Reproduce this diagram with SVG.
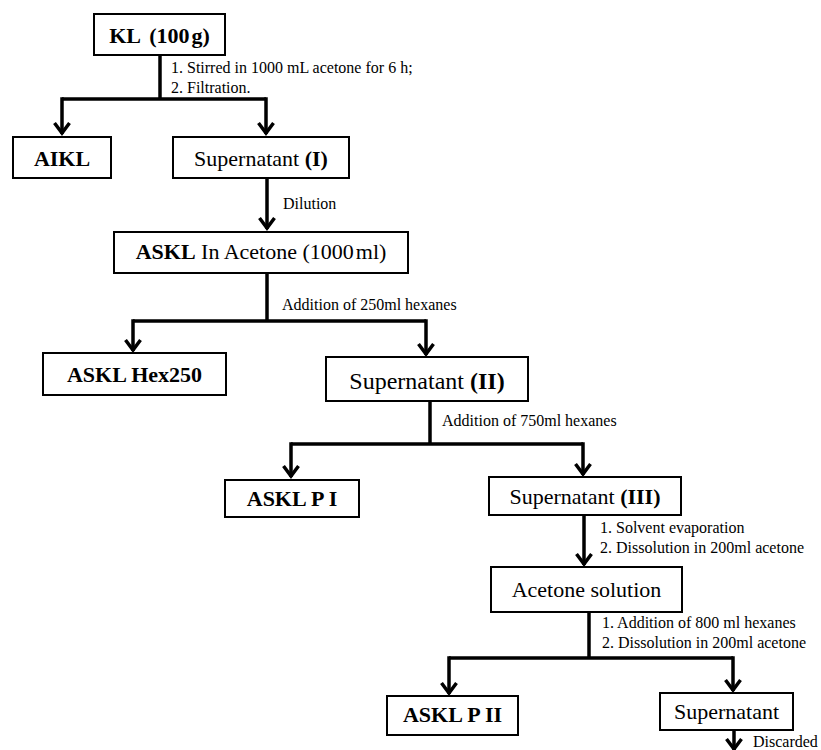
<svg xmlns="http://www.w3.org/2000/svg" width="821" height="750" viewBox="0 0 821 750">
<style>
.box{fill:#fff;stroke:#000;stroke-width:2}
.t{font-family:"Liberation Serif","DejaVu Serif","Times New Roman",serif;font-size:22px;text-anchor:middle;fill:#000}
.b{font-weight:bold}
.lbl{font-family:"Liberation Serif","DejaVu Serif","Times New Roman",serif;font-size:16px;fill:#000}
.c{fill:none;stroke:#000;stroke-width:3.5;stroke-linecap:butt;stroke-linejoin:miter}
</style>
<defs>
<marker id="ah" markerUnits="userSpaceOnUse" markerWidth="20" markerHeight="20" refX="0" refY="0" orient="auto" overflow="visible">
<path d="M-11,-7.5 L-1,0 L-11,7.5" fill="none" stroke="#000" stroke-width="3.5" stroke-linejoin="miter"/>
</marker>
</defs>
<rect width="821" height="750" fill="#fff"/>
<g id="connectors">
<polyline class="c" points="160,55 160,99"/>
<polyline class="c" points="62,99 266,99"/>
<line class="c" x1="62" y1="97.25" x2="62" y2="134" marker-end="url(#ah)"/>
<line class="c" x1="266" y1="97.25" x2="266" y2="134" marker-end="url(#ah)"/>
<text class="lbl" x="171" y="73">1. Stirred in 1000 mL acetone for 6 h;</text>
<text class="lbl" x="171" y="93">2. Filtration.</text>
<line class="c" x1="267" y1="178" x2="267" y2="229" marker-end="url(#ah)"/>
<text class="lbl" x="283" y="209">Dilution</text>
<polyline class="c" points="267,273 267,321"/>
<polyline class="c" points="133,321 426,321"/>
<line class="c" x1="133" y1="319.25" x2="133" y2="351" marker-end="url(#ah)"/>
<line class="c" x1="426" y1="319.25" x2="426" y2="355" marker-end="url(#ah)"/>
<text class="lbl" x="282" y="310">Addition of 250ml hexanes</text>
<polyline class="c" points="430,401 430,444"/>
<polyline class="c" points="291,444 583,444"/>
<line class="c" x1="291" y1="442.25" x2="291" y2="477" marker-end="url(#ah)"/>
<line class="c" x1="583" y1="442.25" x2="583" y2="475" marker-end="url(#ah)"/>
<text class="lbl" x="442" y="426">Addition of 750ml hexanes</text>
<line class="c" x1="584" y1="515" x2="584" y2="565" marker-end="url(#ah)"/>
<text class="lbl" x="600" y="533">1. Solvent evaporation</text>
<text class="lbl" x="600" y="553">2. Dissolution in 200ml acetone</text>
<polyline class="c" points="589,612 589,658"/>
<polyline class="c" points="449,658 733,658"/>
<line class="c" x1="449" y1="656.25" x2="449" y2="694" marker-end="url(#ah)"/>
<line class="c" x1="733" y1="656.25" x2="733" y2="691" marker-end="url(#ah)"/>
<text class="lbl" x="602" y="628">1. Addition of 800 ml hexanes</text>
<text class="lbl" x="602" y="648">2. Dissolution in 200ml acetone</text>
<line class="c" x1="734" y1="730" x2="734" y2="750" marker-end="url(#ah)"/>
<text class="lbl" x="753" y="747">Discarded</text>
</g>
<g id="kl"><rect class="box" x="94" y="14" width="131" height="41"/><text class="t b" x="159.5" y="43">KL <tspan dx="4">(100</tspan><tspan dx="2">g)</tspan></text></g>
<g id="aikl"><rect class="box" x="13" y="137" width="98" height="41"/><text class="t b" x="62" y="166">AIKL</text></g>
<g id="sup1"><rect class="box" x="173" y="137" width="176" height="41"/><text class="t" x="261" y="166">Supernatant <tspan class="b">(I)</tspan></text></g>
<g id="askl-acetone"><rect class="box" x="114" y="232" width="294" height="41"/><text class="t" x="261" y="259"><tspan class="b">ASKL</tspan> In Acetone (1000<tspan dx="2">ml)</tspan></text></g>
<g id="askl-hex250"><rect class="box" x="43" y="353" width="183" height="42"/><text class="t b" x="134.5" y="382">ASKL Hex250</text></g>
<g id="sup2"><rect class="box" x="326" y="357" width="202" height="44"/><text class="t" x="427" y="389" style="font-size:24px">Supernatant <tspan class="b">(II)</tspan></text></g>
<g id="askl-p1"><rect class="box" x="225" y="480" width="134" height="37"/><text class="t b" x="292" y="506">ASKL P I</text></g>
<g id="sup3"><rect class="box" x="489" y="477" width="192" height="38"/><text class="t" x="585" y="504">Supernatant <tspan class="b">(III)</tspan></text></g>
<g id="acetone-solution"><rect class="box" x="491" y="567" width="191" height="45"/><text class="t" x="586.5" y="597">Acetone solution</text></g>
<g id="askl-p2"><rect class="box" x="387" y="696" width="131" height="39"/><text class="t b" x="452.5" y="722">ASKL P II</text></g>
<g id="sup4"><rect class="box" x="660" y="693" width="133" height="37"/><text class="t" x="726.5" y="719">Supernatant</text></g>
</svg>
